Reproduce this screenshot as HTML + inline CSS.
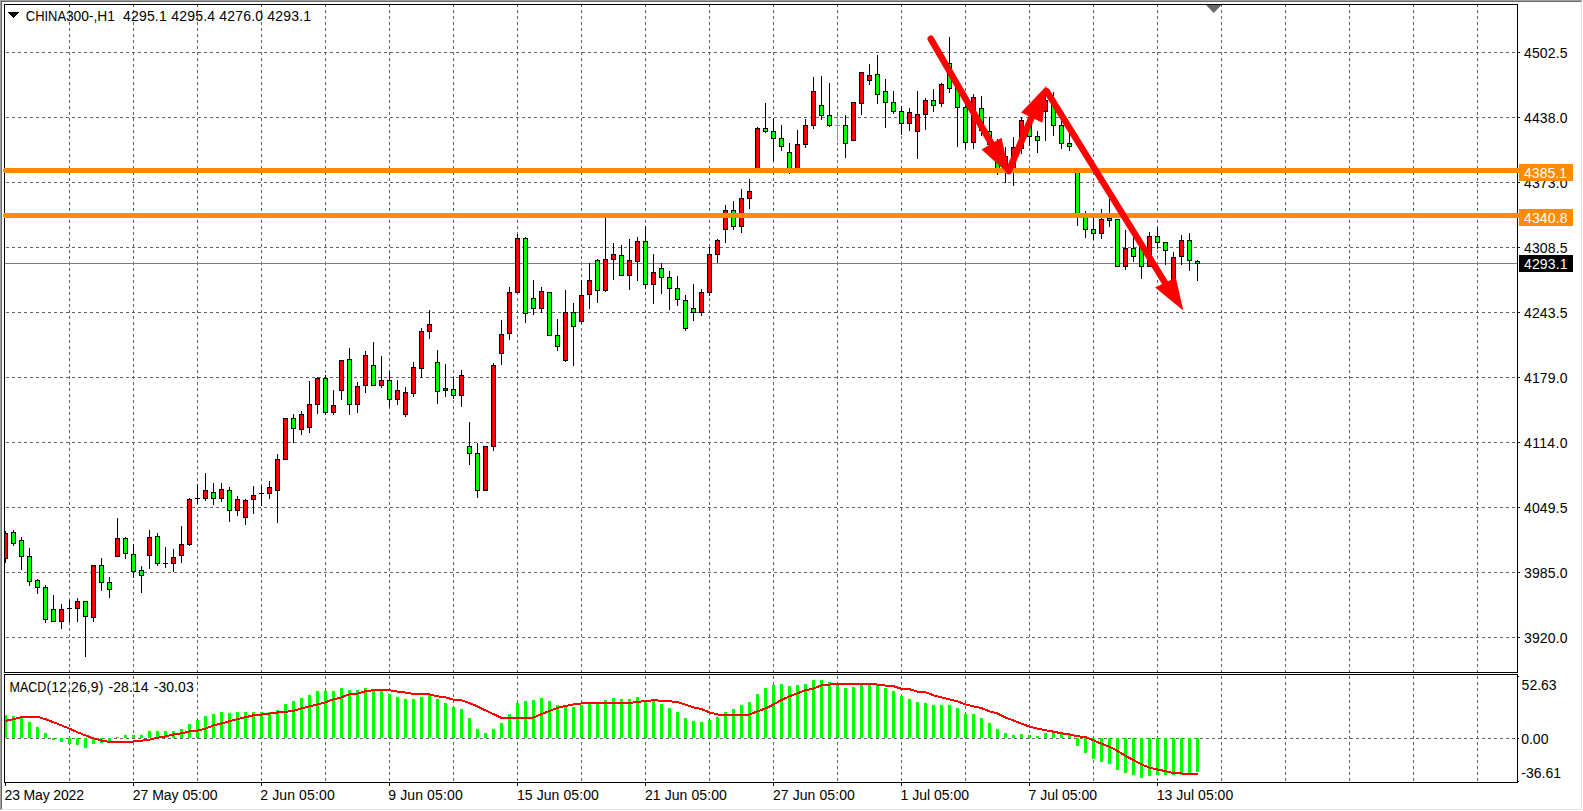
<!DOCTYPE html>
<html><head><meta charset="utf-8"><title>CHINA300-,H1</title>
<style>html,body{margin:0;padding:0;background:#fff;overflow:hidden}svg{display:block}text{font-family:"Liberation Sans",sans-serif;font-size:14px;fill:#000}.c{shape-rendering:crispEdges}</style></head><body>
<svg width="1583" height="811" viewBox="0 0 1583 811">
<rect width="1583" height="811" fill="#fff"/>
<g class="c">
<rect x="1581" y="1" width="1" height="809" fill="#e3e3e3"/><rect x="1" y="809" width="1581" height="1" fill="#e3e3e3"/>
<rect x="0" y="0" width="1582" height="1" fill="#a0a0a0"/><rect x="0" y="0" width="1" height="810" fill="#a0a0a0"/>
<rect x="1" y="1" width="1580" height="1" fill="#696969"/><rect x="1" y="1" width="1" height="808" fill="#696969"/>
</g>
<g class="c" stroke="#646464" stroke-width="1" fill="none">
<line x1="69.5" y1="4" x2="69.5" y2="672" stroke-dasharray="3 3"/>
<line x1="69.5" y1="676" x2="69.5" y2="782" stroke-dasharray="3 3"/>
<line x1="133.5" y1="4" x2="133.5" y2="672" stroke-dasharray="3 3"/>
<line x1="133.5" y1="676" x2="133.5" y2="782" stroke-dasharray="3 3"/>
<line x1="197.5" y1="4" x2="197.5" y2="672" stroke-dasharray="3 3"/>
<line x1="197.5" y1="676" x2="197.5" y2="782" stroke-dasharray="3 3"/>
<line x1="261.5" y1="4" x2="261.5" y2="672" stroke-dasharray="3 3"/>
<line x1="261.5" y1="676" x2="261.5" y2="782" stroke-dasharray="3 3"/>
<line x1="325.5" y1="4" x2="325.5" y2="672" stroke-dasharray="3 3"/>
<line x1="325.5" y1="676" x2="325.5" y2="782" stroke-dasharray="3 3"/>
<line x1="389.5" y1="4" x2="389.5" y2="672" stroke-dasharray="3 3"/>
<line x1="389.5" y1="676" x2="389.5" y2="782" stroke-dasharray="3 3"/>
<line x1="453.5" y1="4" x2="453.5" y2="672" stroke-dasharray="3 3"/>
<line x1="453.5" y1="676" x2="453.5" y2="782" stroke-dasharray="3 3"/>
<line x1="517.5" y1="4" x2="517.5" y2="672" stroke-dasharray="3 3"/>
<line x1="517.5" y1="676" x2="517.5" y2="782" stroke-dasharray="3 3"/>
<line x1="581.5" y1="4" x2="581.5" y2="672" stroke-dasharray="3 3"/>
<line x1="581.5" y1="676" x2="581.5" y2="782" stroke-dasharray="3 3"/>
<line x1="645.5" y1="4" x2="645.5" y2="672" stroke-dasharray="3 3"/>
<line x1="645.5" y1="676" x2="645.5" y2="782" stroke-dasharray="3 3"/>
<line x1="709.5" y1="4" x2="709.5" y2="672" stroke-dasharray="3 3"/>
<line x1="709.5" y1="676" x2="709.5" y2="782" stroke-dasharray="3 3"/>
<line x1="773.5" y1="4" x2="773.5" y2="672" stroke-dasharray="3 3"/>
<line x1="773.5" y1="676" x2="773.5" y2="782" stroke-dasharray="3 3"/>
<line x1="837.5" y1="4" x2="837.5" y2="672" stroke-dasharray="3 3"/>
<line x1="837.5" y1="676" x2="837.5" y2="782" stroke-dasharray="3 3"/>
<line x1="901.5" y1="4" x2="901.5" y2="672" stroke-dasharray="3 3"/>
<line x1="901.5" y1="676" x2="901.5" y2="782" stroke-dasharray="3 3"/>
<line x1="965.5" y1="4" x2="965.5" y2="672" stroke-dasharray="3 3"/>
<line x1="965.5" y1="676" x2="965.5" y2="782" stroke-dasharray="3 3"/>
<line x1="1029.5" y1="4" x2="1029.5" y2="672" stroke-dasharray="3 3"/>
<line x1="1029.5" y1="676" x2="1029.5" y2="782" stroke-dasharray="3 3"/>
<line x1="1093.5" y1="4" x2="1093.5" y2="672" stroke-dasharray="3 3"/>
<line x1="1093.5" y1="676" x2="1093.5" y2="782" stroke-dasharray="3 3"/>
<line x1="1157.5" y1="4" x2="1157.5" y2="672" stroke-dasharray="3 3"/>
<line x1="1157.5" y1="676" x2="1157.5" y2="782" stroke-dasharray="3 3"/>
<line x1="1221.5" y1="4" x2="1221.5" y2="672" stroke-dasharray="3 3"/>
<line x1="1221.5" y1="676" x2="1221.5" y2="782" stroke-dasharray="3 3"/>
<line x1="1285.5" y1="4" x2="1285.5" y2="672" stroke-dasharray="3 3"/>
<line x1="1285.5" y1="676" x2="1285.5" y2="782" stroke-dasharray="3 3"/>
<line x1="1349.5" y1="4" x2="1349.5" y2="672" stroke-dasharray="3 3"/>
<line x1="1349.5" y1="676" x2="1349.5" y2="782" stroke-dasharray="3 3"/>
<line x1="1413.5" y1="4" x2="1413.5" y2="672" stroke-dasharray="3 3"/>
<line x1="1413.5" y1="676" x2="1413.5" y2="782" stroke-dasharray="3 3"/>
<line x1="1477.5" y1="4" x2="1477.5" y2="672" stroke-dasharray="3 3"/>
<line x1="1477.5" y1="676" x2="1477.5" y2="782" stroke-dasharray="3 3"/>
<line x1="6" y1="52.5" x2="1517" y2="52.5" stroke-dasharray="3 3"/>
<line x1="6" y1="117.5" x2="1517" y2="117.5" stroke-dasharray="3 3"/>
<line x1="6" y1="182.5" x2="1517" y2="182.5" stroke-dasharray="3 3"/>
<line x1="6" y1="247.5" x2="1517" y2="247.5" stroke-dasharray="3 3"/>
<line x1="6" y1="312.5" x2="1517" y2="312.5" stroke-dasharray="3 3"/>
<line x1="6" y1="377.5" x2="1517" y2="377.5" stroke-dasharray="3 3"/>
<line x1="6" y1="442.5" x2="1517" y2="442.5" stroke-dasharray="3 3"/>
<line x1="6" y1="507.5" x2="1517" y2="507.5" stroke-dasharray="3 3"/>
<line x1="6" y1="572.5" x2="1517" y2="572.5" stroke-dasharray="3 3"/>
<line x1="6" y1="637.5" x2="1517" y2="637.5" stroke-dasharray="3 3"/>
<line x1="6" y1="738.5" x2="1517" y2="738.5" stroke-dasharray="3 3"/>
</g>
<rect class="c" x="5" y="263" width="1512" height="1" fill="#7f7f7f"/>
<clipPath id="cc"><rect x="5" y="5" width="1512" height="667"/></clipPath>
<g class="c" clip-path="url(#cc)">
<rect x="5" y="531" width="1" height="32" fill="#000"/>
<rect x="3.5" y="533.5" width="4" height="25" fill="#ff0000" stroke="#000" stroke-width="1"/>
<rect x="13" y="530" width="1" height="16" fill="#000"/>
<rect x="11.5" y="532.5" width="4" height="11" fill="#00ff00" stroke="#000" stroke-width="1"/>
<rect x="21" y="537" width="1" height="33" fill="#000"/>
<rect x="19.5" y="540.5" width="4" height="16" fill="#00ff00" stroke="#000" stroke-width="1"/>
<rect x="29" y="548" width="1" height="38" fill="#000"/>
<rect x="27.5" y="556.5" width="4" height="25" fill="#00ff00" stroke="#000" stroke-width="1"/>
<rect x="37" y="579" width="1" height="15" fill="#000"/>
<rect x="35.5" y="580.5" width="4" height="7" fill="#00ff00" stroke="#000" stroke-width="1"/>
<rect x="45" y="585" width="1" height="38" fill="#000"/>
<rect x="43.5" y="587.5" width="4" height="32" fill="#00ff00" stroke="#000" stroke-width="1"/>
<rect x="53" y="595" width="1" height="27" fill="#000"/>
<rect x="51.5" y="609.5" width="4" height="12" fill="#00ff00" stroke="#000" stroke-width="1"/>
<rect x="61" y="604" width="1" height="25" fill="#000"/>
<rect x="59.5" y="609.5" width="4" height="12" fill="#ff0000" stroke="#000" stroke-width="1"/>
<rect x="69" y="600" width="1" height="22" fill="#000"/>
<rect x="67" y="608" width="5" height="1" fill="#000"/>
<rect x="77" y="598" width="1" height="24" fill="#000"/>
<rect x="75.5" y="601.5" width="4" height="7" fill="#ff0000" stroke="#000" stroke-width="1"/>
<rect x="85" y="601" width="1" height="56" fill="#000"/>
<rect x="83.5" y="601.5" width="4" height="15" fill="#00ff00" stroke="#000" stroke-width="1"/>
<rect x="93" y="565" width="1" height="57" fill="#000"/>
<rect x="91.5" y="565.5" width="4" height="52" fill="#ff0000" stroke="#000" stroke-width="1"/>
<rect x="101" y="558" width="1" height="33" fill="#000"/>
<rect x="99.5" y="565.5" width="4" height="17" fill="#00ff00" stroke="#000" stroke-width="1"/>
<rect x="109" y="577" width="1" height="21" fill="#000"/>
<rect x="107.5" y="582.5" width="4" height="7" fill="#00ff00" stroke="#000" stroke-width="1"/>
<rect x="117" y="518" width="1" height="39" fill="#000"/>
<rect x="115.5" y="538.5" width="4" height="18" fill="#ff0000" stroke="#000" stroke-width="1"/>
<rect x="125" y="537" width="1" height="22" fill="#000"/>
<rect x="123.5" y="538.5" width="4" height="15" fill="#00ff00" stroke="#000" stroke-width="1"/>
<rect x="133" y="544" width="1" height="34" fill="#000"/>
<rect x="131.5" y="554.5" width="4" height="17" fill="#00ff00" stroke="#000" stroke-width="1"/>
<rect x="141" y="566" width="1" height="27" fill="#000"/>
<rect x="139.5" y="570.5" width="4" height="5" fill="#00ff00" stroke="#000" stroke-width="1"/>
<rect x="149" y="530" width="1" height="39" fill="#000"/>
<rect x="147.5" y="537.5" width="4" height="18" fill="#ff0000" stroke="#000" stroke-width="1"/>
<rect x="157" y="533" width="1" height="33" fill="#000"/>
<rect x="155.5" y="536.5" width="4" height="27" fill="#00ff00" stroke="#000" stroke-width="1"/>
<rect x="165" y="547" width="1" height="21" fill="#000"/>
<rect x="163" y="563" width="5" height="1" fill="#000"/>
<rect x="173" y="549" width="1" height="23" fill="#000"/>
<rect x="171.5" y="557.5" width="4" height="6" fill="#ff0000" stroke="#000" stroke-width="1"/>
<rect x="181" y="526" width="1" height="37" fill="#000"/>
<rect x="179.5" y="544.5" width="4" height="11" fill="#ff0000" stroke="#000" stroke-width="1"/>
<rect x="189" y="498" width="1" height="48" fill="#000"/>
<rect x="187.5" y="499.5" width="4" height="45" fill="#ff0000" stroke="#000" stroke-width="1"/>
<rect x="197" y="484" width="1" height="20" fill="#000"/>
<rect x="195" y="498" width="5" height="1" fill="#000"/>
<rect x="205" y="473" width="1" height="28" fill="#000"/>
<rect x="203.5" y="490.5" width="4" height="8" fill="#ff0000" stroke="#000" stroke-width="1"/>
<rect x="213" y="483" width="1" height="22" fill="#000"/>
<rect x="211.5" y="492.5" width="4" height="6" fill="#00ff00" stroke="#000" stroke-width="1"/>
<rect x="221" y="483" width="1" height="19" fill="#000"/>
<rect x="219.5" y="489.5" width="4" height="9" fill="#ff0000" stroke="#000" stroke-width="1"/>
<rect x="229" y="487" width="1" height="35" fill="#000"/>
<rect x="227.5" y="490.5" width="4" height="20" fill="#00ff00" stroke="#000" stroke-width="1"/>
<rect x="237" y="496" width="1" height="20" fill="#000"/>
<rect x="235.5" y="499.5" width="4" height="11" fill="#ff0000" stroke="#000" stroke-width="1"/>
<rect x="245" y="499" width="1" height="26" fill="#000"/>
<rect x="243.5" y="500.5" width="4" height="17" fill="#ff0000" stroke="#000" stroke-width="1"/>
<rect x="253" y="486" width="1" height="28" fill="#000"/>
<rect x="251.5" y="495.5" width="4" height="4" fill="#ff0000" stroke="#000" stroke-width="1"/>
<rect x="261" y="486" width="1" height="20" fill="#000"/>
<rect x="259" y="493" width="5" height="1" fill="#000"/>
<rect x="269" y="481" width="1" height="18" fill="#000"/>
<rect x="267.5" y="487.5" width="4" height="6" fill="#ff0000" stroke="#000" stroke-width="1"/>
<rect x="277" y="454" width="1" height="69" fill="#000"/>
<rect x="275.5" y="459.5" width="4" height="31" fill="#ff0000" stroke="#000" stroke-width="1"/>
<rect x="285" y="418" width="1" height="42" fill="#000"/>
<rect x="283.5" y="418.5" width="4" height="41" fill="#ff0000" stroke="#000" stroke-width="1"/>
<rect x="293" y="414" width="1" height="29" fill="#000"/>
<rect x="291.5" y="418.5" width="4" height="10" fill="#00ff00" stroke="#000" stroke-width="1"/>
<rect x="301" y="411" width="1" height="24" fill="#000"/>
<rect x="299.5" y="414.5" width="4" height="15" fill="#ff0000" stroke="#000" stroke-width="1"/>
<rect x="309" y="381" width="1" height="52" fill="#000"/>
<rect x="307.5" y="404.5" width="4" height="23" fill="#ff0000" stroke="#000" stroke-width="1"/>
<rect x="317" y="377" width="1" height="37" fill="#000"/>
<rect x="315.5" y="378.5" width="4" height="26" fill="#ff0000" stroke="#000" stroke-width="1"/>
<rect x="325" y="375" width="1" height="40" fill="#000"/>
<rect x="323.5" y="378.5" width="4" height="34" fill="#00ff00" stroke="#000" stroke-width="1"/>
<rect x="333" y="390" width="1" height="25" fill="#000"/>
<rect x="331.5" y="405.5" width="4" height="7" fill="#ff0000" stroke="#000" stroke-width="1"/>
<rect x="341" y="360" width="1" height="40" fill="#000"/>
<rect x="339.5" y="360.5" width="4" height="30" fill="#ff0000" stroke="#000" stroke-width="1"/>
<rect x="349" y="348" width="1" height="67" fill="#000"/>
<rect x="347.5" y="359.5" width="4" height="45" fill="#00ff00" stroke="#000" stroke-width="1"/>
<rect x="357" y="382" width="1" height="31" fill="#000"/>
<rect x="355.5" y="386.5" width="4" height="18" fill="#ff0000" stroke="#000" stroke-width="1"/>
<rect x="365" y="351" width="1" height="42" fill="#000"/>
<rect x="363.5" y="355.5" width="4" height="30" fill="#ff0000" stroke="#000" stroke-width="1"/>
<rect x="373" y="342" width="1" height="44" fill="#000"/>
<rect x="371.5" y="365.5" width="4" height="20" fill="#00ff00" stroke="#000" stroke-width="1"/>
<rect x="381" y="356" width="1" height="32" fill="#000"/>
<rect x="379.5" y="380.5" width="4" height="5" fill="#ff0000" stroke="#000" stroke-width="1"/>
<rect x="389" y="371" width="1" height="36" fill="#000"/>
<rect x="387.5" y="380.5" width="4" height="19" fill="#00ff00" stroke="#000" stroke-width="1"/>
<rect x="397" y="380" width="1" height="25" fill="#000"/>
<rect x="395.5" y="390.5" width="4" height="9" fill="#ff0000" stroke="#000" stroke-width="1"/>
<rect x="405" y="387" width="1" height="30" fill="#000"/>
<rect x="403.5" y="392.5" width="4" height="22" fill="#ff0000" stroke="#000" stroke-width="1"/>
<rect x="413" y="362" width="1" height="35" fill="#000"/>
<rect x="411.5" y="367.5" width="4" height="26" fill="#ff0000" stroke="#000" stroke-width="1"/>
<rect x="421" y="328" width="1" height="50" fill="#000"/>
<rect x="419.5" y="331.5" width="4" height="37" fill="#ff0000" stroke="#000" stroke-width="1"/>
<rect x="429" y="310" width="1" height="29" fill="#000"/>
<rect x="427.5" y="324.5" width="4" height="7" fill="#ff0000" stroke="#000" stroke-width="1"/>
<rect x="437" y="350" width="1" height="54" fill="#000"/>
<rect x="435.5" y="362.5" width="4" height="29" fill="#00ff00" stroke="#000" stroke-width="1"/>
<rect x="445" y="364" width="1" height="33" fill="#000"/>
<rect x="443.5" y="388.5" width="4" height="2" fill="#ff0000" stroke="#000" stroke-width="1"/>
<rect x="453" y="377" width="1" height="22" fill="#000"/>
<rect x="451.5" y="389.5" width="4" height="6" fill="#00ff00" stroke="#000" stroke-width="1"/>
<rect x="461" y="370" width="1" height="37" fill="#000"/>
<rect x="459.5" y="375.5" width="4" height="20" fill="#ff0000" stroke="#000" stroke-width="1"/>
<rect x="469" y="422" width="1" height="43" fill="#000"/>
<rect x="467.5" y="446.5" width="4" height="7" fill="#00ff00" stroke="#000" stroke-width="1"/>
<rect x="477" y="443" width="1" height="55" fill="#000"/>
<rect x="475.5" y="453.5" width="4" height="37" fill="#00ff00" stroke="#000" stroke-width="1"/>
<rect x="485" y="446" width="1" height="45" fill="#000"/>
<rect x="483.5" y="446.5" width="4" height="44" fill="#ff0000" stroke="#000" stroke-width="1"/>
<rect x="493" y="363" width="1" height="88" fill="#000"/>
<rect x="491.5" y="365.5" width="4" height="81" fill="#ff0000" stroke="#000" stroke-width="1"/>
<rect x="501" y="320" width="1" height="45" fill="#000"/>
<rect x="499.5" y="334.5" width="4" height="19" fill="#ff0000" stroke="#000" stroke-width="1"/>
<rect x="509" y="287" width="1" height="53" fill="#000"/>
<rect x="507.5" y="292.5" width="4" height="41" fill="#ff0000" stroke="#000" stroke-width="1"/>
<rect x="517" y="234" width="1" height="59" fill="#000"/>
<rect x="515.5" y="238.5" width="4" height="54" fill="#ff0000" stroke="#000" stroke-width="1"/>
<rect x="525" y="237" width="1" height="86" fill="#000"/>
<rect x="523.5" y="238.5" width="4" height="75" fill="#00ff00" stroke="#000" stroke-width="1"/>
<rect x="533" y="280" width="1" height="35" fill="#000"/>
<rect x="531.5" y="298.5" width="4" height="10" fill="#00ff00" stroke="#000" stroke-width="1"/>
<rect x="541" y="287" width="1" height="26" fill="#000"/>
<rect x="539.5" y="291.5" width="4" height="17" fill="#ff0000" stroke="#000" stroke-width="1"/>
<rect x="549" y="292" width="1" height="44" fill="#000"/>
<rect x="547.5" y="292.5" width="4" height="43" fill="#00ff00" stroke="#000" stroke-width="1"/>
<rect x="557" y="319" width="1" height="32" fill="#000"/>
<rect x="555.5" y="335.5" width="4" height="11" fill="#00ff00" stroke="#000" stroke-width="1"/>
<rect x="565" y="290" width="1" height="72" fill="#000"/>
<rect x="563.5" y="312.5" width="4" height="48" fill="#ff0000" stroke="#000" stroke-width="1"/>
<rect x="573" y="303" width="1" height="63" fill="#000"/>
<rect x="571.5" y="312.5" width="4" height="14" fill="#00ff00" stroke="#000" stroke-width="1"/>
<rect x="581" y="280" width="1" height="44" fill="#000"/>
<rect x="579.5" y="295.5" width="4" height="26" fill="#ff0000" stroke="#000" stroke-width="1"/>
<rect x="589" y="263" width="1" height="46" fill="#000"/>
<rect x="587.5" y="280.5" width="4" height="14" fill="#ff0000" stroke="#000" stroke-width="1"/>
<rect x="597" y="259" width="1" height="44" fill="#000"/>
<rect x="595.5" y="260.5" width="4" height="30" fill="#00ff00" stroke="#000" stroke-width="1"/>
<rect x="605" y="218" width="1" height="74" fill="#000"/>
<rect x="603.5" y="259.5" width="4" height="31" fill="#ff0000" stroke="#000" stroke-width="1"/>
<rect x="613" y="243" width="1" height="37" fill="#000"/>
<rect x="611.5" y="254.5" width="4" height="5" fill="#ff0000" stroke="#000" stroke-width="1"/>
<rect x="621" y="245" width="1" height="31" fill="#000"/>
<rect x="619.5" y="255.5" width="4" height="20" fill="#00ff00" stroke="#000" stroke-width="1"/>
<rect x="629" y="239" width="1" height="51" fill="#000"/>
<rect x="627.5" y="260.5" width="4" height="15" fill="#ff0000" stroke="#000" stroke-width="1"/>
<rect x="637" y="237" width="1" height="44" fill="#000"/>
<rect x="635.5" y="241.5" width="4" height="20" fill="#ff0000" stroke="#000" stroke-width="1"/>
<rect x="645" y="226" width="1" height="63" fill="#000"/>
<rect x="643.5" y="241.5" width="4" height="43" fill="#00ff00" stroke="#000" stroke-width="1"/>
<rect x="653" y="254" width="1" height="50" fill="#000"/>
<rect x="651.5" y="272.5" width="4" height="12" fill="#ff0000" stroke="#000" stroke-width="1"/>
<rect x="661" y="263" width="1" height="31" fill="#000"/>
<rect x="659.5" y="268.5" width="4" height="9" fill="#00ff00" stroke="#000" stroke-width="1"/>
<rect x="669" y="271" width="1" height="39" fill="#000"/>
<rect x="667.5" y="277.5" width="4" height="11" fill="#00ff00" stroke="#000" stroke-width="1"/>
<rect x="677" y="276" width="1" height="30" fill="#000"/>
<rect x="675.5" y="288.5" width="4" height="11" fill="#00ff00" stroke="#000" stroke-width="1"/>
<rect x="685" y="295" width="1" height="36" fill="#000"/>
<rect x="683.5" y="300.5" width="4" height="28" fill="#00ff00" stroke="#000" stroke-width="1"/>
<rect x="693" y="284" width="1" height="37" fill="#000"/>
<rect x="691.5" y="308.5" width="4" height="4" fill="#00ff00" stroke="#000" stroke-width="1"/>
<rect x="701" y="289" width="1" height="27" fill="#000"/>
<rect x="699.5" y="292.5" width="4" height="20" fill="#ff0000" stroke="#000" stroke-width="1"/>
<rect x="709" y="247" width="1" height="49" fill="#000"/>
<rect x="707.5" y="254.5" width="4" height="38" fill="#ff0000" stroke="#000" stroke-width="1"/>
<rect x="717" y="239" width="1" height="24" fill="#000"/>
<rect x="715.5" y="240.5" width="4" height="14" fill="#ff0000" stroke="#000" stroke-width="1"/>
<rect x="725" y="205" width="1" height="38" fill="#000"/>
<rect x="723.5" y="210.5" width="4" height="19" fill="#ff0000" stroke="#000" stroke-width="1"/>
<rect x="733" y="201" width="1" height="29" fill="#000"/>
<rect x="731.5" y="210.5" width="4" height="16" fill="#00ff00" stroke="#000" stroke-width="1"/>
<rect x="741" y="189" width="1" height="44" fill="#000"/>
<rect x="739.5" y="198.5" width="4" height="28" fill="#ff0000" stroke="#000" stroke-width="1"/>
<rect x="749" y="179" width="1" height="30" fill="#000"/>
<rect x="747.5" y="191.5" width="4" height="7" fill="#ff0000" stroke="#000" stroke-width="1"/>
<rect x="757" y="127" width="1" height="43" fill="#000"/>
<rect x="755.5" y="128.5" width="4" height="41" fill="#ff0000" stroke="#000" stroke-width="1"/>
<rect x="765" y="103" width="1" height="30" fill="#000"/>
<rect x="763.5" y="128.5" width="4" height="3" fill="#00ff00" stroke="#000" stroke-width="1"/>
<rect x="773" y="118" width="1" height="43" fill="#000"/>
<rect x="771.5" y="131.5" width="4" height="7" fill="#00ff00" stroke="#000" stroke-width="1"/>
<rect x="781" y="125" width="1" height="26" fill="#000"/>
<rect x="779.5" y="138.5" width="4" height="8" fill="#00ff00" stroke="#000" stroke-width="1"/>
<rect x="789" y="143" width="1" height="31" fill="#000"/>
<rect x="787.5" y="152.5" width="4" height="17" fill="#00ff00" stroke="#000" stroke-width="1"/>
<rect x="797" y="130" width="1" height="40" fill="#000"/>
<rect x="795.5" y="144.5" width="4" height="25" fill="#ff0000" stroke="#000" stroke-width="1"/>
<rect x="805" y="119" width="1" height="29" fill="#000"/>
<rect x="803.5" y="125.5" width="4" height="19" fill="#ff0000" stroke="#000" stroke-width="1"/>
<rect x="813" y="77" width="1" height="52" fill="#000"/>
<rect x="811.5" y="91.5" width="4" height="34" fill="#ff0000" stroke="#000" stroke-width="1"/>
<rect x="821" y="76" width="1" height="44" fill="#000"/>
<rect x="819.5" y="105.5" width="4" height="10" fill="#00ff00" stroke="#000" stroke-width="1"/>
<rect x="829" y="83" width="1" height="44" fill="#000"/>
<rect x="827.5" y="115.5" width="4" height="10" fill="#00ff00" stroke="#000" stroke-width="1"/>
<rect x="837" y="115" width="1" height="26" fill="#00ff00"/>
<rect x="835" y="125" width="5" height="1" fill="#00ff00"/>
<rect x="845" y="115" width="1" height="43" fill="#000"/>
<rect x="843.5" y="125.5" width="4" height="18" fill="#00ff00" stroke="#000" stroke-width="1"/>
<rect x="853" y="102" width="1" height="39" fill="#000"/>
<rect x="851.5" y="102.5" width="4" height="38" fill="#ff0000" stroke="#000" stroke-width="1"/>
<rect x="861" y="72" width="1" height="43" fill="#000"/>
<rect x="859.5" y="72.5" width="4" height="31" fill="#ff0000" stroke="#000" stroke-width="1"/>
<rect x="869" y="64" width="1" height="21" fill="#000"/>
<rect x="867.5" y="75.5" width="4" height="5" fill="#ff0000" stroke="#000" stroke-width="1"/>
<rect x="877" y="55" width="1" height="49" fill="#000"/>
<rect x="875.5" y="74.5" width="4" height="20" fill="#00ff00" stroke="#000" stroke-width="1"/>
<rect x="885" y="79" width="1" height="49" fill="#000"/>
<rect x="883.5" y="91.5" width="4" height="11" fill="#00ff00" stroke="#000" stroke-width="1"/>
<rect x="893" y="91" width="1" height="23" fill="#000"/>
<rect x="891.5" y="102.5" width="4" height="9" fill="#00ff00" stroke="#000" stroke-width="1"/>
<rect x="901" y="106" width="1" height="29" fill="#000"/>
<rect x="899.5" y="111.5" width="4" height="12" fill="#00ff00" stroke="#000" stroke-width="1"/>
<rect x="909" y="108" width="1" height="23" fill="#000"/>
<rect x="907.5" y="112.5" width="4" height="11" fill="#ff0000" stroke="#000" stroke-width="1"/>
<rect x="917" y="91" width="1" height="68" fill="#000"/>
<rect x="915.5" y="114.5" width="4" height="17" fill="#ff0000" stroke="#000" stroke-width="1"/>
<rect x="925" y="98" width="1" height="32" fill="#000"/>
<rect x="923.5" y="100.5" width="4" height="14" fill="#ff0000" stroke="#000" stroke-width="1"/>
<rect x="933" y="89" width="1" height="23" fill="#000"/>
<rect x="931.5" y="100.5" width="4" height="5" fill="#00ff00" stroke="#000" stroke-width="1"/>
<rect x="941" y="83" width="1" height="24" fill="#000"/>
<rect x="939.5" y="84.5" width="4" height="19" fill="#ff0000" stroke="#000" stroke-width="1"/>
<rect x="949" y="37" width="1" height="56" fill="#000"/>
<rect x="947.5" y="63.5" width="4" height="25" fill="#00ff00" stroke="#000" stroke-width="1"/>
<rect x="957" y="80" width="1" height="67" fill="#000"/>
<rect x="955.5" y="87.5" width="4" height="20" fill="#00ff00" stroke="#000" stroke-width="1"/>
<rect x="965" y="104" width="1" height="45" fill="#000"/>
<rect x="963.5" y="107.5" width="4" height="35" fill="#00ff00" stroke="#000" stroke-width="1"/>
<rect x="973" y="94" width="1" height="55" fill="#000"/>
<rect x="971.5" y="97.5" width="4" height="45" fill="#ff0000" stroke="#000" stroke-width="1"/>
<rect x="981" y="96" width="1" height="40" fill="#000"/>
<rect x="979.5" y="108.5" width="4" height="22" fill="#00ff00" stroke="#000" stroke-width="1"/>
<rect x="989" y="117" width="1" height="33" fill="#000"/>
<rect x="987.5" y="131.5" width="4" height="13" fill="#00ff00" stroke="#000" stroke-width="1"/>
<rect x="997" y="139" width="1" height="36" fill="#000"/>
<rect x="995.5" y="144.5" width="4" height="25" fill="#00ff00" stroke="#000" stroke-width="1"/>
<rect x="1005" y="147" width="1" height="36" fill="#000"/>
<rect x="1003.5" y="156.5" width="4" height="13" fill="#ff0000" stroke="#000" stroke-width="1"/>
<rect x="1013" y="137" width="1" height="49" fill="#000"/>
<rect x="1011.5" y="147.5" width="4" height="22" fill="#ff0000" stroke="#000" stroke-width="1"/>
<rect x="1021" y="117" width="1" height="37" fill="#000"/>
<rect x="1019.5" y="120.5" width="4" height="28" fill="#ff0000" stroke="#000" stroke-width="1"/>
<rect x="1029" y="118" width="1" height="28" fill="#000"/>
<rect x="1027.5" y="123.5" width="4" height="13" fill="#00ff00" stroke="#000" stroke-width="1"/>
<rect x="1037" y="131" width="1" height="22" fill="#000"/>
<rect x="1035.5" y="136.5" width="4" height="4" fill="#00ff00" stroke="#000" stroke-width="1"/>
<rect x="1045" y="91" width="1" height="50" fill="#000"/>
<rect x="1043.5" y="100.5" width="4" height="11" fill="#ff0000" stroke="#000" stroke-width="1"/>
<rect x="1053" y="92" width="1" height="44" fill="#000"/>
<rect x="1051.5" y="104.5" width="4" height="21" fill="#00ff00" stroke="#000" stroke-width="1"/>
<rect x="1061" y="121" width="1" height="28" fill="#000"/>
<rect x="1059.5" y="125.5" width="4" height="18" fill="#00ff00" stroke="#000" stroke-width="1"/>
<rect x="1069" y="133" width="1" height="18" fill="#000"/>
<rect x="1067.5" y="143.5" width="4" height="3" fill="#00ff00" stroke="#000" stroke-width="1"/>
<rect x="1077" y="170" width="1" height="56" fill="#000"/>
<rect x="1075.5" y="170.5" width="4" height="44" fill="#00ff00" stroke="#000" stroke-width="1"/>
<rect x="1085" y="211" width="1" height="27" fill="#000"/>
<rect x="1083.5" y="215.5" width="4" height="14" fill="#00ff00" stroke="#000" stroke-width="1"/>
<rect x="1093" y="215" width="1" height="25" fill="#000"/>
<rect x="1091.5" y="229.5" width="4" height="4" fill="#00ff00" stroke="#000" stroke-width="1"/>
<rect x="1101" y="209" width="1" height="30" fill="#000"/>
<rect x="1099.5" y="219.5" width="4" height="14" fill="#ff0000" stroke="#000" stroke-width="1"/>
<rect x="1109" y="199" width="1" height="28" fill="#000"/>
<rect x="1107.5" y="218.5" width="4" height="2" fill="#00ff00" stroke="#000" stroke-width="1"/>
<rect x="1117" y="219" width="1" height="48" fill="#000"/>
<rect x="1115.5" y="219.5" width="4" height="47" fill="#00ff00" stroke="#000" stroke-width="1"/>
<rect x="1125" y="230" width="1" height="40" fill="#000"/>
<rect x="1123.5" y="248.5" width="4" height="18" fill="#ff0000" stroke="#000" stroke-width="1"/>
<rect x="1133" y="237" width="1" height="25" fill="#000"/>
<rect x="1131.5" y="248.5" width="4" height="8" fill="#00ff00" stroke="#000" stroke-width="1"/>
<rect x="1141" y="243" width="1" height="36" fill="#000"/>
<rect x="1139.5" y="247.5" width="4" height="19" fill="#00ff00" stroke="#000" stroke-width="1"/>
<rect x="1149" y="232" width="1" height="35" fill="#000"/>
<rect x="1147.5" y="236.5" width="4" height="30" fill="#ff0000" stroke="#000" stroke-width="1"/>
<rect x="1157" y="227" width="1" height="22" fill="#000"/>
<rect x="1155.5" y="236.5" width="4" height="6" fill="#00ff00" stroke="#000" stroke-width="1"/>
<rect x="1165" y="242" width="1" height="23" fill="#000"/>
<rect x="1163.5" y="242.5" width="4" height="8" fill="#00ff00" stroke="#000" stroke-width="1"/>
<rect x="1173" y="252" width="1" height="29" fill="#000"/>
<rect x="1171.5" y="257.5" width="4" height="23" fill="#ff0000" stroke="#000" stroke-width="1"/>
<rect x="1181" y="235" width="1" height="30" fill="#000"/>
<rect x="1179.5" y="240.5" width="4" height="16" fill="#ff0000" stroke="#000" stroke-width="1"/>
<rect x="1189" y="233" width="1" height="38" fill="#000"/>
<rect x="1187.5" y="240.5" width="4" height="20" fill="#00ff00" stroke="#000" stroke-width="1"/>
<rect x="1197" y="260" width="1" height="21" fill="#000"/>
<rect x="1195.5" y="261.5" width="4" height="2" fill="#00ff00" stroke="#000" stroke-width="1"/>
</g>
<g class="c">
<rect x="5" y="168" width="1514" height="5" fill="#ff8c00"/>
<rect x="5" y="213" width="1514" height="5" fill="#ff8c00"/>
</g>
<g fill="#ff0000" stroke="#ff0000" stroke-linecap="round">
<line x1="930.8" y1="38.8" x2="1000" y2="158.3" stroke-width="6.6"/>
<polygon points="1009.3,174.4 981.5,149.6 1001.6,137.8" stroke="none"/>
<line x1="1008.7" y1="171" x2="1035.2" y2="109" stroke-width="6.6"/>
<polygon points="1046.6,85.7 1021.1,112.6 1042.5,122.7" stroke="none"/>
<line x1="1046.6" y1="91" x2="1166.9" y2="285.7" stroke-width="6.4"/>
<polygon points="1183.3,310.4 1155.1,287.4 1175.8,277.6" stroke="none"/>
</g>
<g class="c">
<rect x="4" y="715" width="3" height="23" fill="#00ff00"/>
<rect x="12" y="716" width="3" height="22" fill="#00ff00"/>
<rect x="20" y="718" width="3" height="20" fill="#00ff00"/>
<rect x="28" y="722" width="3" height="16" fill="#00ff00"/>
<rect x="36" y="727" width="3" height="11" fill="#00ff00"/>
<rect x="44" y="733" width="3" height="5" fill="#00ff00"/>
<rect x="52" y="738" width="3" height="2" fill="#00ff00"/>
<rect x="60" y="738" width="3" height="4" fill="#00ff00"/>
<rect x="68" y="738" width="3" height="6" fill="#00ff00"/>
<rect x="76" y="738" width="3" height="7" fill="#00ff00"/>
<rect x="84" y="738" width="3" height="10" fill="#00ff00"/>
<rect x="92" y="738" width="3" height="6" fill="#00ff00"/>
<rect x="100" y="738" width="3" height="5" fill="#00ff00"/>
<rect x="108" y="738" width="3" height="4" fill="#00ff00"/>
<rect x="116" y="737" width="3" height="1" fill="#00ff00"/>
<rect x="124" y="735" width="3" height="3" fill="#00ff00"/>
<rect x="132" y="735" width="3" height="3" fill="#00ff00"/>
<rect x="140" y="735" width="3" height="3" fill="#00ff00"/>
<rect x="148" y="731" width="3" height="7" fill="#00ff00"/>
<rect x="156" y="731" width="3" height="7" fill="#00ff00"/>
<rect x="164" y="731" width="3" height="7" fill="#00ff00"/>
<rect x="172" y="731" width="3" height="7" fill="#00ff00"/>
<rect x="180" y="729" width="3" height="9" fill="#00ff00"/>
<rect x="188" y="724" width="3" height="14" fill="#00ff00"/>
<rect x="196" y="720" width="3" height="18" fill="#00ff00"/>
<rect x="204" y="716" width="3" height="22" fill="#00ff00"/>
<rect x="212" y="714" width="3" height="24" fill="#00ff00"/>
<rect x="220" y="712" width="3" height="26" fill="#00ff00"/>
<rect x="228" y="713" width="3" height="25" fill="#00ff00"/>
<rect x="236" y="712" width="3" height="26" fill="#00ff00"/>
<rect x="244" y="712" width="3" height="26" fill="#00ff00"/>
<rect x="252" y="712" width="3" height="26" fill="#00ff00"/>
<rect x="260" y="712" width="3" height="26" fill="#00ff00"/>
<rect x="268" y="712" width="3" height="26" fill="#00ff00"/>
<rect x="276" y="710" width="3" height="28" fill="#00ff00"/>
<rect x="284" y="704" width="3" height="34" fill="#00ff00"/>
<rect x="292" y="701" width="3" height="37" fill="#00ff00"/>
<rect x="300" y="698" width="3" height="40" fill="#00ff00"/>
<rect x="308" y="695" width="3" height="43" fill="#00ff00"/>
<rect x="316" y="691" width="3" height="47" fill="#00ff00"/>
<rect x="324" y="691" width="3" height="47" fill="#00ff00"/>
<rect x="332" y="691" width="3" height="47" fill="#00ff00"/>
<rect x="340" y="688" width="3" height="50" fill="#00ff00"/>
<rect x="348" y="690" width="3" height="48" fill="#00ff00"/>
<rect x="356" y="690" width="3" height="48" fill="#00ff00"/>
<rect x="364" y="688" width="3" height="50" fill="#00ff00"/>
<rect x="372" y="690" width="3" height="48" fill="#00ff00"/>
<rect x="380" y="690" width="3" height="48" fill="#00ff00"/>
<rect x="388" y="694" width="3" height="44" fill="#00ff00"/>
<rect x="396" y="697" width="3" height="41" fill="#00ff00"/>
<rect x="404" y="699" width="3" height="39" fill="#00ff00"/>
<rect x="412" y="699" width="3" height="39" fill="#00ff00"/>
<rect x="420" y="697" width="3" height="41" fill="#00ff00"/>
<rect x="428" y="694" width="3" height="44" fill="#00ff00"/>
<rect x="436" y="699" width="3" height="39" fill="#00ff00"/>
<rect x="444" y="703" width="3" height="35" fill="#00ff00"/>
<rect x="452" y="707" width="3" height="31" fill="#00ff00"/>
<rect x="460" y="709" width="3" height="29" fill="#00ff00"/>
<rect x="468" y="718" width="3" height="20" fill="#00ff00"/>
<rect x="476" y="729" width="3" height="9" fill="#00ff00"/>
<rect x="484" y="733" width="3" height="5" fill="#00ff00"/>
<rect x="492" y="729" width="3" height="9" fill="#00ff00"/>
<rect x="500" y="723" width="3" height="15" fill="#00ff00"/>
<rect x="508" y="714" width="3" height="24" fill="#00ff00"/>
<rect x="516" y="703" width="3" height="35" fill="#00ff00"/>
<rect x="524" y="701" width="3" height="37" fill="#00ff00"/>
<rect x="532" y="700" width="3" height="38" fill="#00ff00"/>
<rect x="540" y="698" width="3" height="40" fill="#00ff00"/>
<rect x="548" y="701" width="3" height="37" fill="#00ff00"/>
<rect x="556" y="705" width="3" height="33" fill="#00ff00"/>
<rect x="564" y="705" width="3" height="33" fill="#00ff00"/>
<rect x="572" y="707" width="3" height="31" fill="#00ff00"/>
<rect x="580" y="705" width="3" height="33" fill="#00ff00"/>
<rect x="588" y="704" width="3" height="34" fill="#00ff00"/>
<rect x="596" y="703" width="3" height="35" fill="#00ff00"/>
<rect x="604" y="700" width="3" height="38" fill="#00ff00"/>
<rect x="612" y="698" width="3" height="40" fill="#00ff00"/>
<rect x="620" y="699" width="3" height="39" fill="#00ff00"/>
<rect x="628" y="699" width="3" height="39" fill="#00ff00"/>
<rect x="636" y="697" width="3" height="41" fill="#00ff00"/>
<rect x="644" y="700" width="3" height="38" fill="#00ff00"/>
<rect x="652" y="701" width="3" height="37" fill="#00ff00"/>
<rect x="660" y="704" width="3" height="34" fill="#00ff00"/>
<rect x="668" y="708" width="3" height="30" fill="#00ff00"/>
<rect x="676" y="712" width="3" height="26" fill="#00ff00"/>
<rect x="684" y="718" width="3" height="20" fill="#00ff00"/>
<rect x="692" y="721" width="3" height="17" fill="#00ff00"/>
<rect x="700" y="722" width="3" height="16" fill="#00ff00"/>
<rect x="708" y="720" width="3" height="18" fill="#00ff00"/>
<rect x="716" y="717" width="3" height="21" fill="#00ff00"/>
<rect x="724" y="712" width="3" height="26" fill="#00ff00"/>
<rect x="732" y="709" width="3" height="29" fill="#00ff00"/>
<rect x="740" y="705" width="3" height="33" fill="#00ff00"/>
<rect x="748" y="702" width="3" height="36" fill="#00ff00"/>
<rect x="756" y="694" width="3" height="44" fill="#00ff00"/>
<rect x="764" y="688" width="3" height="50" fill="#00ff00"/>
<rect x="772" y="685" width="3" height="53" fill="#00ff00"/>
<rect x="780" y="684" width="3" height="54" fill="#00ff00"/>
<rect x="788" y="686" width="3" height="52" fill="#00ff00"/>
<rect x="796" y="685" width="3" height="53" fill="#00ff00"/>
<rect x="804" y="684" width="3" height="54" fill="#00ff00"/>
<rect x="812" y="680" width="3" height="58" fill="#00ff00"/>
<rect x="820" y="680" width="3" height="58" fill="#00ff00"/>
<rect x="828" y="682" width="3" height="56" fill="#00ff00"/>
<rect x="836" y="683" width="3" height="55" fill="#00ff00"/>
<rect x="844" y="688" width="3" height="50" fill="#00ff00"/>
<rect x="852" y="687" width="3" height="51" fill="#00ff00"/>
<rect x="860" y="684" width="3" height="54" fill="#00ff00"/>
<rect x="868" y="684" width="3" height="54" fill="#00ff00"/>
<rect x="876" y="685" width="3" height="53" fill="#00ff00"/>
<rect x="884" y="688" width="3" height="50" fill="#00ff00"/>
<rect x="892" y="691" width="3" height="47" fill="#00ff00"/>
<rect x="900" y="696" width="3" height="42" fill="#00ff00"/>
<rect x="908" y="699" width="3" height="39" fill="#00ff00"/>
<rect x="916" y="702" width="3" height="36" fill="#00ff00"/>
<rect x="924" y="703" width="3" height="35" fill="#00ff00"/>
<rect x="932" y="705" width="3" height="33" fill="#00ff00"/>
<rect x="940" y="705" width="3" height="33" fill="#00ff00"/>
<rect x="948" y="705" width="3" height="33" fill="#00ff00"/>
<rect x="956" y="708" width="3" height="30" fill="#00ff00"/>
<rect x="964" y="714" width="3" height="24" fill="#00ff00"/>
<rect x="972" y="714" width="3" height="24" fill="#00ff00"/>
<rect x="980" y="718" width="3" height="20" fill="#00ff00"/>
<rect x="988" y="723" width="3" height="15" fill="#00ff00"/>
<rect x="996" y="729" width="3" height="9" fill="#00ff00"/>
<rect x="1004" y="733" width="3" height="5" fill="#00ff00"/>
<rect x="1012" y="735" width="3" height="3" fill="#00ff00"/>
<rect x="1020" y="734" width="3" height="4" fill="#00ff00"/>
<rect x="1028" y="735" width="3" height="3" fill="#00ff00"/>
<rect x="1036" y="736" width="3" height="2" fill="#00ff00"/>
<rect x="1044" y="733" width="3" height="5" fill="#00ff00"/>
<rect x="1052" y="733" width="3" height="5" fill="#00ff00"/>
<rect x="1060" y="734" width="3" height="4" fill="#00ff00"/>
<rect x="1068" y="735" width="3" height="3" fill="#00ff00"/>
<rect x="1076" y="738" width="3" height="8" fill="#00ff00"/>
<rect x="1084" y="738" width="3" height="15" fill="#00ff00"/>
<rect x="1092" y="738" width="3" height="21" fill="#00ff00"/>
<rect x="1100" y="738" width="3" height="24" fill="#00ff00"/>
<rect x="1108" y="738" width="3" height="26" fill="#00ff00"/>
<rect x="1116" y="738" width="3" height="32" fill="#00ff00"/>
<rect x="1124" y="738" width="3" height="35" fill="#00ff00"/>
<rect x="1132" y="738" width="3" height="37" fill="#00ff00"/>
<rect x="1140" y="738" width="3" height="40" fill="#00ff00"/>
<rect x="1148" y="738" width="3" height="38" fill="#00ff00"/>
<rect x="1156" y="738" width="3" height="37" fill="#00ff00"/>
<rect x="1164" y="738" width="3" height="37" fill="#00ff00"/>
<rect x="1172" y="738" width="3" height="37" fill="#00ff00"/>
<rect x="1180" y="738" width="3" height="37" fill="#00ff00"/>
<rect x="1188" y="738" width="3" height="36" fill="#00ff00"/>
<rect x="1196" y="738" width="3" height="34" fill="#00ff00"/>
</g>
<polyline points="5.5,721.0 13.5,719.1 21.5,717.2 29.5,716.7 37.5,716.9 45.5,719.1 53.5,722.2 61.5,725.4 69.5,728.6 77.5,732.2 85.5,735.4 93.5,738.3 101.5,740.5 109.5,741.9 117.5,741.9 125.5,741.9 133.5,741.5 141.5,740.7 149.5,739.6 157.5,737.7 165.5,736.4 173.5,734.5 181.5,733.3 189.5,731.4 197.5,730.7 205.5,728.6 213.5,725.4 221.5,723.5 229.5,721.2 237.5,719.1 245.5,717.2 253.5,715.3 261.5,714.6 269.5,713.6 277.5,712.5 285.5,711.8 293.5,710.8 301.5,708.4 309.5,706.4 317.5,704.4 325.5,702.3 333.5,699.3 341.5,697.3 349.5,694.3 357.5,693.7 365.5,691.2 373.5,690.2 381.5,689.8 389.5,690.2 397.5,691.6 405.5,692.6 413.5,693.9 421.5,693.9 429.5,694.3 437.5,696.3 445.5,697.3 453.5,699.7 461.5,700.3 469.5,703.0 477.5,706.4 485.5,710.4 493.5,714.1 501.5,717.9 509.5,717.9 517.5,717.9 525.5,717.9 533.5,717.5 541.5,714.1 549.5,711.0 557.5,707.8 565.5,706.0 573.5,704.4 581.5,703.4 589.5,703.0 597.5,703.0 605.5,703.0 613.5,703.0 621.5,703.0 629.5,703.0 637.5,701.9 645.5,700.9 653.5,700.3 661.5,700.7 669.5,701.3 677.5,701.9 685.5,704.8 693.5,707.4 701.5,709.0 709.5,712.4 717.5,714.5 725.5,714.9 733.5,714.9 741.5,714.9 749.5,714.5 757.5,711.4 765.5,708.4 773.5,704.4 781.5,699.9 789.5,696.3 797.5,693.2 805.5,690.2 813.5,688.6 821.5,685.2 829.5,684.6 837.5,683.7 845.5,683.7 853.5,683.7 861.5,683.7 869.5,683.7 877.5,684.6 885.5,685.6 893.5,686.2 901.5,688.8 909.5,689.2 917.5,691.6 925.5,692.2 933.5,695.3 941.5,697.3 949.5,699.3 957.5,701.3 965.5,704.4 973.5,706.4 981.5,708.0 989.5,711.4 997.5,713.5 1005.5,717.5 1013.5,720.5 1021.5,723.6 1029.5,726.6 1037.5,728.6 1045.5,730.2 1053.5,731.7 1061.5,733.3 1069.5,734.3 1077.5,736.3 1085.5,737.1 1093.5,740.3 1101.5,743.8 1109.5,746.8 1117.5,750.9 1125.5,755.9 1133.5,760.0 1141.5,764.4 1149.5,767.6 1157.5,769.5 1165.5,771.1 1173.5,773.1 1181.5,773.5 1189.5,774.1 1197.5,774.1" fill="none" stroke="#ff0000" stroke-width="2" stroke-linejoin="round" class="c"/>
<g class="c" fill="none" stroke="#000" stroke-width="1">
<rect x="4.5" y="4.5" width="1513" height="668"/>
<rect x="4.5" y="674.5" width="1513" height="108"/>
</g>
<g class="c" fill="#000">
<rect x="1518" y="52" width="2" height="1"/>
<rect x="1518" y="117" width="2" height="1"/>
<rect x="1518" y="182" width="2" height="1"/>
<rect x="1518" y="247" width="2" height="1"/>
<rect x="1518" y="312" width="2" height="1"/>
<rect x="1518" y="377" width="2" height="1"/>
<rect x="1518" y="442" width="2" height="1"/>
<rect x="1518" y="507" width="2" height="1"/>
<rect x="1518" y="572" width="2" height="1"/>
<rect x="1518" y="637" width="2" height="1"/>
<rect x="1518" y="676" width="1" height="1"/>
<rect x="1518" y="738" width="1" height="1"/>
<rect x="1518" y="781" width="1" height="1"/>
<rect x="5" y="783" width="1" height="3"/>
<rect x="133" y="783" width="1" height="3"/>
<rect x="261" y="783" width="1" height="3"/>
<rect x="389" y="783" width="1" height="3"/>
<rect x="517" y="783" width="1" height="3"/>
<rect x="645" y="783" width="1" height="3"/>
<rect x="773" y="783" width="1" height="3"/>
<rect x="901" y="783" width="1" height="3"/>
<rect x="1029" y="783" width="1" height="3"/>
<rect x="1157" y="783" width="1" height="3"/>
</g>
<polygon points="1206,5 1221.5,5 1213.7,13" fill="#6a6a6a"/>
<polygon class="c" points="8,12 19.5,12 13.75,18" fill="#000"/>
<text x="1524" y="58" textLength="43.5">4502.5</text>
<text x="1524" y="123" textLength="43.5">4438.0</text>
<text x="1524" y="188" textLength="43.5">4373.0</text>
<text x="1524" y="253" textLength="43.5">4308.5</text>
<text x="1524" y="318" textLength="43.5">4243.5</text>
<text x="1524" y="383" textLength="43.5">4179.0</text>
<text x="1524" y="448" textLength="43.5">4114.0</text>
<text x="1524" y="513" textLength="43.5">4049.5</text>
<text x="1524" y="578" textLength="43.5">3985.0</text>
<text x="1524" y="643" textLength="43.5">3920.0</text>
<g class="c">
<rect x="1517" y="168" width="2" height="5" fill="#ff8c00"/>
<rect x="4" y="168" width="1" height="5" fill="#ff8c00"/><rect x="3" y="169" width="1" height="3" fill="#ff8c00"/>
<rect x="1519" y="164" width="54" height="17" fill="#ff8c00"/>
<rect x="1517" y="213" width="2" height="5" fill="#ff8c00"/>
<rect x="4" y="213" width="1" height="5" fill="#ff8c00"/><rect x="3" y="214" width="1" height="3" fill="#ff8c00"/>
<rect x="1519" y="209" width="54" height="17" fill="#ff8c00"/>
<rect x="1519" y="255" width="54" height="17" fill="#000"/>
</g>
<text x="1524" y="178" style="fill:#fff" textLength="43">4385.1</text>
<text x="1524" y="223" style="fill:#fff" textLength="43.5">4340.8</text>
<text x="1524" y="269" style="fill:#fff" textLength="43.5">4293.1</text>
<text x="1521.6" y="690" >52.63</text>
<text x="1521.2" y="744" >0.00</text>
<text x="1521.3" y="778" >-36.61</text>
<text x="25.8" y="21" textLength="40.2" lengthAdjust="spacingAndGlyphs">CHINA</text>
<text x="65.9" y="21" textLength="49" lengthAdjust="spacingAndGlyphs">300-,H1</text>
<text x="123" y="21" textLength="43.7">4295.1</text>
<text x="171.3" y="21" textLength="43.7">4295.4</text>
<text x="219.3" y="21" textLength="43.7">4276.0</text>
<text x="267.3" y="21" textLength="43.7">4293.1</text>
<text x="9.5" y="692" textLength="36.9" lengthAdjust="spacingAndGlyphs">MACD</text>
<text x="46.4" y="692" textLength="57">(12,26,9)</text>
<text x="108.4" y="692" textLength="40.2">-28.14</text>
<text x="153.7" y="692" textLength="40">-30.03</text>
<text x="4.5" y="800" textLength="79.5">23 May 2022</text>
<text x="132.7" y="800" textLength="84.8">27 May 05:00</text>
<text x="260.2" y="800" textLength="74.5">2 Jun 05:00</text>
<text x="388.2" y="800" textLength="74.5">9 Jun 05:00</text>
<text x="517.0" y="800" textLength="81.8">15 Jun 05:00</text>
<text x="645.0" y="800" textLength="81.8">21 Jun 05:00</text>
<text x="773.0" y="800" textLength="81.8">27 Jun 05:00</text>
<text x="900.5" y="800" >1 Jul 05:00</text>
<text x="1028.5" y="800" >7 Jul 05:00</text>
<text x="1156.7" y="800" textLength="76.5">13 Jul 05:00</text>
</svg></body></html>
